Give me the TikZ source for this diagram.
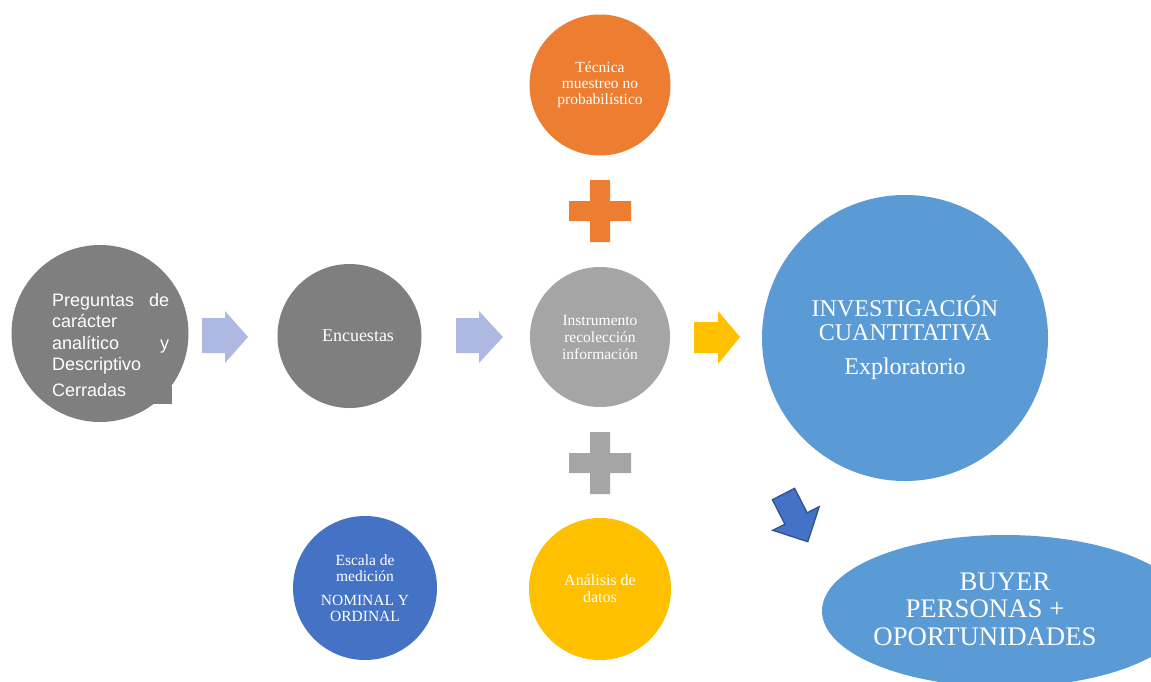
\documentclass[tikz,border=0pt]{standalone}
\usepackage{fontspec}
\setmainfont{Liberation Serif}
\newfontfamily\arialf{Liberation Sans}
\definecolor{dgray}{HTML}{7F7F7F}
\definecolor{lgray}{HTML}{A5A5A5}
\definecolor{orng}{HTML}{ED7D31}
\definecolor{yell}{HTML}{FFC000}
\definecolor{lblue}{HTML}{5B9BD5}
\definecolor{dblue}{HTML}{4472C4}
\definecolor{dborder}{HTML}{2F528F}
\definecolor{lav}{RGB}{173,185,224}
\tikzset{
  bub/.style={circle, inner sep=0pt, text=white, align=center},
}
\begin{document}
\begin{tikzpicture}[x=1pt,y=-1pt]
\useasboundingbox (0,0) rectangle (1151,681);
\clip (0,0) rectangle (1151,681);

% left circle
\node[bub, fill=dgray, minimum size=177pt] (preg) at (100,333.5) {};
\fill[dgray] (150,386) rectangle (172,404);
\node[anchor=north west, inner sep=0pt, text width=117pt, text=white, align=left,
      font=\arialf\fontsize{18}{21.5}\selectfont] (pregtext) at (52,293)
  {Preguntas\hfill de\\carácter\\analítico\hfill y\\Descriptivo\\[4pt]Cerradas};

% light arrows
\fill[lav] (202,318) -- (225,318) -- (225,311) -- (248,337) -- (225,363) -- (225,353) -- (202,353) -- cycle;
\fill[lav] (456,318) -- (479,318) -- (479,311) -- (503,337) -- (479,363) -- (479,353) -- (456,353) -- cycle;

% Encuestas
\node[bub, fill=dgray, minimum size=144pt, font=\fontsize{18}{21}\selectfont] (enc) at (349.5,336) {\hspace*{17pt}Encuestas};

% Instrumento
\node[bub, fill=lgray, minimum size=140pt, font=\fontsize{15.5}{17}\selectfont] (inst) at (600,337)
  {Instrumento\\recolección\\información};

% yellow arrow
\fill[yell] (694,322) -- (718,322) -- (718,311) -- (740,337) -- (718,364) -- (718,353) -- (694,353) -- cycle;

% Investigación
\node[bub, fill=lblue, minimum size=286pt, font=\fontsize{24}{24}\selectfont] (inv) at (905,338)
  {INVESTIGACIÓN\\CUANTITATIVA\\[10pt]Exploratorio};

% Técnica
\node[bub, fill=orng, minimum size=141pt, font=\fontsize{15.5}{16}\selectfont] (tec) at (600,85)
  {Técnica\\muestreo no\\probabilístico};

% plus signs
\fill[orng] (590,180) -- (610,180) -- (610,201) -- (631,201) -- (631,221) -- (610,221) -- (610,242) -- (590,242) -- (590,221) -- (569,221) -- (569,201) -- (590,201) -- cycle;
\fill[lgray] (590,432) -- (610,432) -- (610,453) -- (631,453) -- (631,473) -- (610,473) -- (610,494) -- (590,494) -- (590,473) -- (569,473) -- (569,453) -- (590,453) -- cycle;

% Análisis
\node[bub, fill=yell, minimum size=142pt, font=\fontsize{16}{17}\selectfont] (ana) at (600,589)
  {Análisis de\\datos};

% Escala
\node[bub, fill=dblue, minimum size=144pt, font=\fontsize{15.5}{16}\selectfont] (esc) at (365,588)
  {Escala de\\medición\\[8pt]NOMINAL Y\\ORDINAL};

% down-right arrow
\filldraw[fill=dblue, draw=dborder, line width=1.3pt, line join=miter]
  (772.4,499.7) -- (794.6,488.3) -- (807.1,512.8) -- (819.2,506.7) -- (807.8,541.7) -- (772.8,530.3) -- (784.9,524.2) -- cycle;

% Buyer ellipse
\fill[lblue] (1005,611) ellipse [x radius=183pt, y radius=76pt];
\node[inner sep=0pt, text=white, align=center, font=\fontsize{26.8}{27.5}\selectfont] (buy) at (985,609)
  {\hspace*{40pt}BUYER\\PERSONAS +\\OPORTUNIDADES};
\end{tikzpicture}
\end{document}
